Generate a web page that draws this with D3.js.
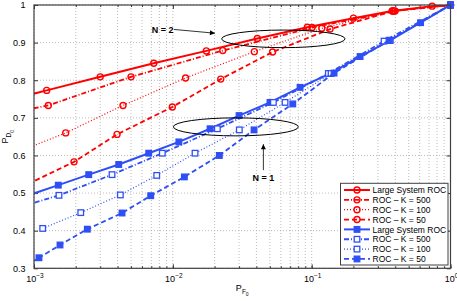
<!DOCTYPE html>
<html>
<head>
<script src="https://d3js.org/d3.v7.min.js"></script>
<style>
  body { margin: 0; background: #fff; }
  text { font-family: "Liberation Sans", Arial, sans-serif; fill: #000; }
</style>
</head>
<body>
<svg id="chart" width="457" height="301"></svg>
<script>
// [P_F0, P_D0] pairs, one array per curve
var redLarge = [[5.1e-4,0.737],[1.234e-3,0.773],[3.0e-3,0.809],[7.29e-3,0.845],[1.743e-2,0.878],[4.06e-2,0.911],[9.31e-2,0.941],[0.1998,0.965],[0.38,0.984],[0.737,0.997],[1,1]];
var red500 = [[3.18e-4,0.689],[1.268e-3,0.733],[5.0e-3,0.809],[2.29e-2,0.879],[0.1007,0.940],[0.399,0.984],[1,1]];
var red100 = [[6.5e-4,0.599],[1.692e-3,0.660],[4.377e-3,0.733],[1.235e-2,0.806],[3.865e-2,0.876],[0.1183,0.938],[0.384,0.984],[1,1]];
var red50 = [[9.05e-4,0.524],[1.942e-3,0.583],[3.963e-3,0.656],[9.92e-3,0.729],[2.214e-2,0.803],[5.23e-2,0.875],[0.1357,0.936],[0.39,0.984],[1,1]];
var blueLarge = [[9.1e-4,0.494],[1.496e-3,0.521],[2.478e-3,0.549],[4.076e-3,0.576],[6.706e-3,0.606],[1.105e-2,0.636],[1.854e-2,0.671],[3.0e-2,0.706],[5.01e-2,0.741],[8.25e-2,0.781],[0.1368,0.818],[0.2233,0.863],[0.3671,0.906],[0.609,0.953],[1,1]];
var blue500 = [[6.28e-4,0.452],[1.513e-3,0.494],[3.648e-3,0.549],[8.40e-3,0.606],[2.093e-2,0.671],[5.30e-2,0.741],[0.1319,0.818],[0.3323,0.904],[1,1]];
var blue100 = [[1.155e-3,0.406],[2.171e-3,0.448],[4.187e-3,0.495],[7.656e-3,0.547],[1.445e-2,0.606],[3.013e-2,0.668],[6.43e-2,0.741],[0.138,0.818],[0.367,0.906],[1,1]];
var blue50 = [[7.67e-4,0.294],[1.086e-3,0.328],[1.539e-3,0.362],[2.421e-3,0.404],[4.306e-3,0.447],[6.93e-3,0.493],[1.211e-2,0.543],[2.163e-2,0.600],[3.846e-2,0.668],[7.31e-2,0.737],[0.145,0.819],[0.361,0.906],[1,1]];

var seriesNames = ["Large System ROC", "ROC \u2013 K = 500", "ROC \u2013 K = 100", "ROC \u2013 K = 50",
                   "Large System ROC", "ROC \u2013 K = 500", "ROC \u2013 K = 100", "ROC \u2013 K = 50"];
var xTickValues = [1e-3, 1e-2, 1e-1, 1];
var xTickExps = ["\u22123", "\u22122", "\u22121", "0"];
var yTickValues = [0.3, 0.4, 0.5, 0.6, 0.7, 0.8, 0.9, 1];

var seriesData = [redLarge, red500, red100, red50, blueLarge, blue500, blue100, blue50];

var RED = "#ff0000", BLUE = "#2f4ff5";
var dashes = [null, "5,2,1,2", "1,2", "5,3"];
var widths = [2, 1.8, 1.2, 1.8];

// note: "top" is taken by window.top, so plot edges get their own names
var pLeft = 34, pRight = 450.5, pTop = 5, pBottom = 268.3;

var svg = d3.select("#chart");

var x = d3.scaleLog().domain([1e-3, 1]).range([pLeft, pRight]);
var y = d3.scaleLinear().domain([0.3, 1]).range([pBottom, pTop]);

svg.append("rect").attr("width", 457).attr("height", 301).attr("fill", "#fff");

// grid (minor x grid too, like matlab log axes)
svg.append("g").selectAll("line")
  .data(x.ticks())
  .enter().append("line")
  .attr("x1", d => x(d)).attr("x2", d => x(d))
  .attr("y1", pTop).attr("y2", pBottom)
  .attr("stroke", "#aaa").attr("stroke-width", 0.8).attr("stroke-dasharray", "1,2");
svg.append("g").selectAll("line")
  .data(yTickValues)
  .enter().append("line")
  .attr("x1", pLeft).attr("x2", pRight)
  .attr("y1", d => y(d)).attr("y2", d => y(d))
  .attr("stroke", "#aaa").attr("stroke-width", 0.8).attr("stroke-dasharray", "1,2");

// axes, ticks pointing inwards
var yAxis = d3.axisLeft(y).tickValues(yTickValues).tickSize(-4).tickPadding(8.5)
  .tickFormat(d => d === 1 ? "1" : d3.format(".1f")(d));
var gy = svg.append("g").attr("transform", "translate(" + pLeft + ",0)").call(yAxis);
gy.select(".domain").remove();
gy.selectAll("text").attr("font-size", 9).attr("font-family", "Liberation Sans, Arial, sans-serif");

var gyr = svg.append("g").attr("transform", "translate(" + pRight + ",0)")
  .call(d3.axisRight(y).tickValues(yTickValues).tickSize(-4).tickFormat(""));
gyr.select(".domain").remove();

var gx = svg.append("g").attr("transform", "translate(0," + pBottom + ")")
  .call(d3.axisBottom(x).tickValues(x.ticks()).tickSize(-2).tickFormat(""));
gx.select(".domain").remove();
var gxt = svg.append("g").attr("transform", "translate(0," + pTop + ")")
  .call(d3.axisTop(x).tickValues(x.ticks()).tickSize(-2).tickFormat(""));
gxt.select(".domain").remove();
svg.append("g").attr("transform", "translate(0," + pBottom + ")")
  .call(d3.axisBottom(x).tickValues(xTickValues).tickSize(-4).tickFormat(""))
  .select(".domain").remove();
svg.append("g").attr("transform", "translate(0," + pTop + ")")
  .call(d3.axisTop(x).tickValues(xTickValues).tickSize(-4).tickFormat(""))
  .select(".domain").remove();
svg.selectAll(".tick line").attr("stroke", "#333");

// x tick labels with exponents
var xl = svg.append("g").selectAll("text")
  .data(xTickValues)
  .enter().append("text")
  .attr("x", d => x(d) + 1)
  .attr("y", 282)
  .attr("text-anchor", "middle")
  .attr("font-size", 9);
xl.append("tspan").text("10");
xl.append("tspan").attr("dy", -4.5).attr("font-size", 6.5).text((d, i) => xTickExps[i]);

// axis titles
var xt = svg.append("text").attr("x", (pLeft + pRight) / 2).attr("y", 290.5)
  .attr("text-anchor", "middle").attr("font-size", 9);
xt.append("tspan").text("P");
xt.append("tspan").attr("dy", 3).attr("font-size", 6.5).text("F");
xt.append("tspan").attr("dy", 2.5).attr("font-size", 5).text("0");

var yt = svg.append("text").attr("transform", "translate(8," + ((pTop + pBottom) / 2) + ") rotate(-90)")
  .attr("text-anchor", "middle").attr("font-size", 9);
yt.append("tspan").text("P");
yt.append("tspan").attr("dy", 3).attr("font-size", 6.5).text("D");
yt.append("tspan").attr("dy", 2.5).attr("font-size", 5).text("0");

// curves
svg.append("clipPath").attr("id", "plotclip")
  .append("rect").attr("x", pLeft).attr("y", pTop).attr("width", pRight - pLeft).attr("height", pBottom - pTop);

var line = d3.line().x(d => x(d[0])).y(d => y(d[1]));

function drawMarker(g, i, cx, cy) {
  var color = i < 4 ? RED : BLUE;
  if (i < 4) {
    g.append("circle").attr("cx", cx).attr("cy", cy).attr("r", 3)
      .attr("fill", "none").attr("stroke", color).attr("stroke-width", 1.4);
  } else {
    var filled = (i % 4 == 0 || i % 4 == 3);
    g.append("rect").attr("x", cx - 2.8).attr("y", cy - 2.8).attr("width", 5.6).attr("height", 5.6)
      .attr("fill", filled ? color : "#fff").attr("stroke", color).attr("stroke-width", 1.3);
  }
}

seriesData.forEach(function(data, i) {
  var color = i < 4 ? RED : BLUE;
  svg.append("path")
    .datum(data)
    .attr("clip-path", "url(#plotclip)")
    .attr("d", line)
    .attr("fill", "none")
    .attr("stroke", color)
    .attr("stroke-width", widths[i % 4])
    .attr("stroke-dasharray", dashes[i % 4]);
  var g = svg.append("g");
  data.filter(d => d[0] >= 1e-3 && d[1] >= 0.3).forEach(function(d) {
    drawMarker(g, i, x(d[0]), y(d[1]));
  });
});

// frame
svg.append("rect").attr("x", pLeft).attr("y", pTop).attr("width", pRight - pLeft).attr("height", pBottom - pTop)
  .attr("fill", "none").attr("stroke", "#404040").attr("stroke-width", 1.2);

// annotations: N = 2 and N = 1
svg.append("defs").append("marker")
  .attr("id", "arrow").attr("viewBox", "0 0 10 10").attr("refX", 10).attr("refY", 5)
  .attr("markerWidth", 6).attr("markerHeight", 5).attr("markerUnits", "userSpaceOnUse")
  .attr("orient", "auto")
  .append("path").attr("d", "M0,0L10,5L0,10z").attr("fill", "#000");

svg.append("ellipse").attr("cx", x(0.0625)).attr("cy", y(0.910)).attr("rx", 61.7).attr("ry", 8.8)
  .attr("fill", "none").attr("stroke", "#000").attr("stroke-width", 1);
svg.append("ellipse").attr("cx", x(0.02844)).attr("cy", y(0.676)).attr("rx", 62.5).attr("ry", 9)
  .attr("fill", "none").attr("stroke", "#000").attr("stroke-width", 1);

svg.append("text").attr("x", x(8.43e-3)).attr("y", y(0.935) + 3.3)
  .attr("text-anchor", "middle").attr("font-size", 9).attr("font-weight", "bold").text("N = 2");
svg.append("line").attr("x1", x(1.02e-2)).attr("y1", y(0.935)).attr("x2", x(0.0201)).attr("y2", y(0.925))
  .attr("stroke", "#000").attr("stroke-width", 0.8).attr("marker-end", "url(#arrow)");

svg.append("text").attr("x", x(0.0449)).attr("y", y(0.542) + 3.3)
  .attr("text-anchor", "middle").attr("font-size", 9).attr("font-weight", "bold").text("N = 1");
svg.append("line").attr("x1", x(0.0449)).attr("y1", y(0.561)).attr("x2", x(0.0449)).attr("y2", y(0.630))
  .attr("stroke", "#000").attr("stroke-width", 0.8).attr("marker-end", "url(#arrow)");

// legend
var lg = svg.append("g");
lg.append("rect").attr("x", 340.5).attr("y", 183.3).attr("width", 107.5).attr("height", 81.7)
  .attr("fill", "#fff").attr("stroke", "#404040").attr("stroke-width", 1);
seriesNames.forEach(function(name, i) {
  var ry = 190 + i * 9.85;
  lg.append("line").attr("x1", 344).attr("x2", 370).attr("y1", ry).attr("y2", ry)
    .attr("stroke", i < 4 ? RED : BLUE).attr("stroke-width", widths[i % 4])
    .attr("stroke-dasharray", dashes[i % 4]);
  drawMarker(lg, i, 357, ry);
  lg.append("text").attr("x", 372.5).attr("y", ry + 3.1).attr("font-size", 8.5).text(name);
});
</script>
</body>
</html>
